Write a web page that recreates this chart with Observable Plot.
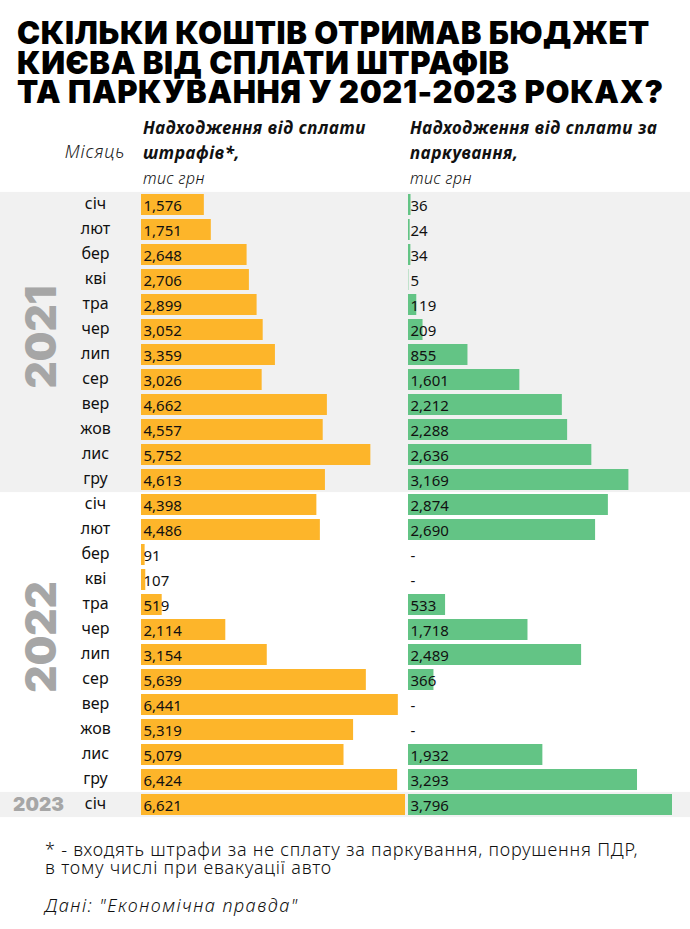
<!DOCTYPE html>
<html>
<head>
<meta charset="utf-8">
<script src="https://cdn.jsdelivr.net/npm/d3@7"></script>
<script src="https://cdn.jsdelivr.net/npm/@observablehq/plot@0.6"></script>
<style>
  html, body { margin: 0; padding: 0; background: #fff; }
  #wrap { position: relative; width: 690px; height: 929px; overflow: hidden; font-family: "Noto Sans", sans-serif; color: #111; }
  #title { position: absolute; left: 17px; top: 18px; margin: 0; font-family: Inter, sans-serif; font-weight: 900; font-size: 31px; line-height: 29.5px; letter-spacing: 0.6px; text-transform: uppercase; color: #000; white-space: nowrap; }
  .hdr { position: absolute; font-size: 17px; font-style: italic; font-weight: 700; line-height: 25px; letter-spacing: 0.6px; color: #111; white-space: nowrap; }
  .hdr .unit { font-weight: 300; font-size: 16px; letter-spacing: 0.4px; }
  #monthHdr { position: absolute; right: 565px; top: 139px; font-size: 18px; font-style: italic; font-weight: 300; letter-spacing: 0.8px; color: #222; }
  .layer { position: absolute; left: 0; top: 185px; }
  #foot { position: absolute; left: 45px; top: 840px; font-size: 18px; font-weight: 300; line-height: 18px; letter-spacing: 0.8px; color: #111; white-space: nowrap; }
  #src { position: absolute; left: 45px; top: 893px; font-size: 18px; font-weight: 300; font-style: italic; letter-spacing: 1.5px; color: #111; white-space: nowrap; }
</style>
</head>
<body>
<div id="wrap">
  <h1 id="title">Скільки коштів отримав бюджет<br>Києва від сплати штрафів<br>та паркування у 2021-2023 роках?</h1>
  <div id="monthHdr">Місяць</div>
  <div class="hdr" style="left:143px; top:115px;">Надходження від сплати<br>штрафів*,<br><span class="unit">тис грн</span></div>
  <div class="hdr" style="left:410px; top:115px;">Надходження від сплати за<br>паркування,<br><span class="unit">тис грн</span></div>
  <div id="layerA" class="layer"></div>
  <div id="layerB" class="layer"></div>
  <div id="foot">* - входять штрафи за не сплату за паркування, порушення ПДР,<br>в тому числі при евакуації авто</div>
  <div id="src">Дані: "Економічна правда"</div>
</div>
<script>
// ---- data ----
const rowYear = ["2021","2021","2021","2021","2021","2021","2021","2021","2021","2021","2021","2021",
                 "2022","2022","2022","2022","2022","2022","2022","2022","2022","2022","2022","2022",
                 "2023"];
const rowMonth = ["січ","лют","бер","кві","тра","чер","лип","сер","вер","жов","лис","гру",
                  "січ","лют","бер","кві","тра","чер","лип","сер","вер","жов","лис","гру",
                  "січ"];
const fines = [1576,1751,2648,2706,2899,3052,3359,3026,4662,4557,5752,4613,
               4398,4486,91,107,519,2114,3154,5639,6441,5319,5079,6424,
               6621];
const parking = [36,24,34,5,119,209,855,1601,2212,2288,2636,3169,
                 2874,2690,null,null,533,1718,2489,366,null,null,1932,3293,
                 3796];
const years = ["2021","2022","2023"];
const shadedYears = ["2021","2023"];

// ---- table ----
const rows = rowYear.map((y, i) => ({key: y + "-" + i, year: y, month: rowMonth[i], fines: fines[i], parking: parking[i]}));
const keys = rows.map(d => d.key);
const fmt = d3.format(",");

const yearLabels = years.map(y => {
  const r = rows.filter(d => d.year === y);
  return {year: y, n: r.length, key: r[Math.floor((r.length - 1) / 2)].key};
});

const H = 640;
const common = {
  width: 690, height: H, marginTop: 7, marginBottom: 8, marginLeft: 0, marginRight: 0,
  y: {domain: keys, paddingInner: 0.17, paddingOuter: 0.085, axis: null},
};
const labelFont = {fontFamily: "Noto Sans, sans-serif", fontSize: 15, fill: "#111"};

const plotA = Plot.plot({
  ...common,
  x: {domain: [0, d3.max(fines)], range: [141, 405], axis: null},
  style: {background: "transparent", overflow: "visible"},
  marks: [
    Plot.cell(rows.filter(d => shadedYears.includes(d.year)), {y: "key", fill: "#f1f1f1", insetTop: -2.13, insetBottom: -2.13}),
    Plot.barX(rows, {x: "fines", y: "key", fill: "#fdb52a"}),
    Plot.text(rows, {y: "key", text: "month", frameAnchor: "left", dx: 95, textAnchor: "middle", fontSize: 16, fontFamily: "Noto Sans, sans-serif", fill: "#111", dy: -1}),
    Plot.text(rows, {x: 0, y: "key", text: d => fmt(d.fines), textAnchor: "start", dx: 2, dy: 1, ...labelFont}),
    Plot.text(yearLabels.filter(d => d.n > 1), {y: "key", text: "year", frameAnchor: "left", dx: 42, dy: 7, rotate: -90, textAnchor: "middle", lineAnchor: "middle", fontSize: 42, fontWeight: 900, fontFamily: "Inter, sans-serif", fill: "#a6a6a6"}),
    Plot.text(yearLabels.filter(d => d.n === 1), {y: "key", text: "year", frameAnchor: "left", dx: 38, textAnchor: "middle", lineAnchor: "middle", fontSize: 19, fontWeight: 900, fontFamily: "Inter, sans-serif", fill: "#a6a6a6"})
  ]
});
document.getElementById("layerA").appendChild(plotA);

const plotB = Plot.plot({
  ...common,
  x: {domain: [0, d3.max(parking)], range: [408, 672], axis: null},
  style: {background: "transparent", overflow: "visible"},
  marks: [
    Plot.barX(rows.filter(d => d.parking != null), {x: "parking", y: "key", fill: "#63c485"}),
    Plot.text(rows, {x: 0, y: "key", text: d => d.parking == null ? "-" : fmt(d.parking), textAnchor: "start", dx: 2, dy: 1, ...labelFont})
  ]
});
document.getElementById("layerB").appendChild(plotB);
</script>
</body>
</html>
